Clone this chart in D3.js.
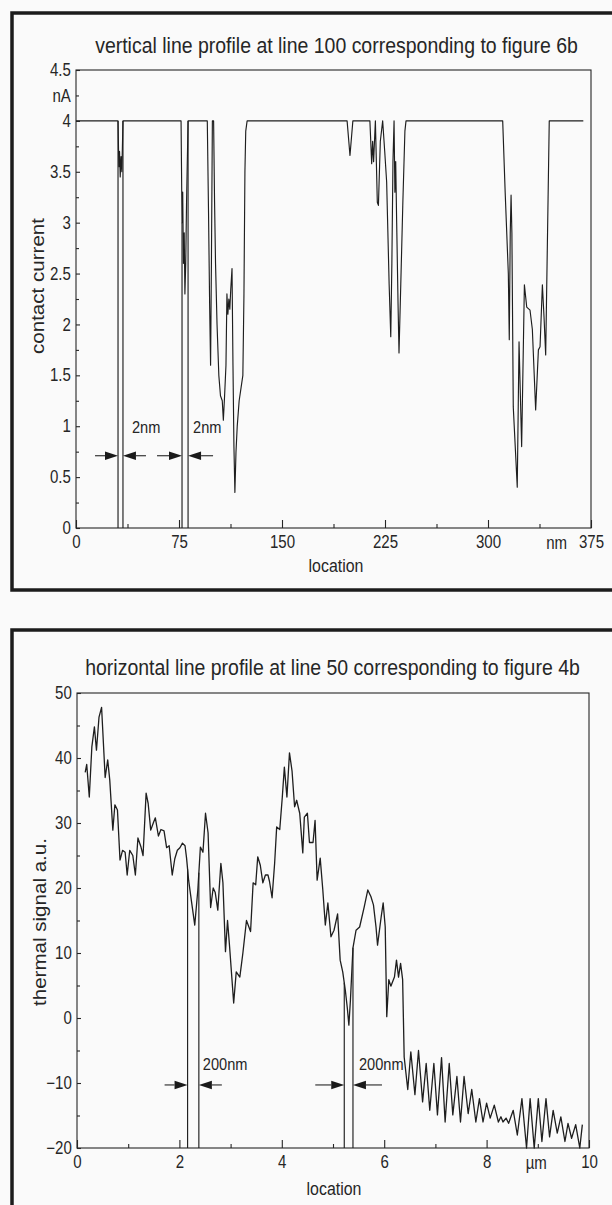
<!DOCTYPE html>
<html>
<head>
<meta charset="utf-8">
<script src="https://cdn.jsdelivr.net/npm/d3@7"></script>
<style>
  body { margin: 0; background: #fafafa; }
  text { font-family: "Liberation Sans", Arial, sans-serif; fill: #262626; }
</style>
</head>
<body>
<svg id="chart" width="612" height="1205"></svg>
<script>
// ---- panel 1: vertical line profile, contact current (nA) vs location (nm)
const currentLoc = [0, 30.6, 31.2, 31.7, 32.2, 32.8, 33.4, 34.2, 76.5, 77.2, 77.7, 78.2, 78.8, 79.3, 79.9, 80.5, 81.6,
  95.6, 96.5, 97.3, 98.0, 98.6, 99.3, 100.2, 100.9, 101.6, 102.7, 104.0, 105.2, 106.5, 107.3, 108.2, 109.2, 109.9,
  110.6, 111.3, 112.0, 112.7, 113.6, 114.3, 115.0, 115.7, 116.5, 117.4, 118.8, 120.2, 121.5, 122.3, 123.0, 123.6, 124.6,
  197.4, 199.5, 201.6, 214.0, 215.3, 216.0, 216.7, 218.0, 219.4, 220.2, 221.6, 223.3, 224.8, 226.2, 228.0, 229.2,
  230.0, 230.8, 231.6, 232.2, 232.8, 233.5, 234.5, 235.2, 236.5, 238.0, 239.5, 240.3,
  310.7, 312.5, 314.8, 315.5, 316.2, 316.8, 317.4, 318.4, 321.3, 322.6, 324.5, 326.5, 328.2, 330.6, 332.3, 334.7,
  336.7, 337.9, 339.6, 340.8, 342.0, 344.6, 369.4];
const currentVal = [4, 4, 3.55, 3.7, 3.45, 3.65, 3.5, 4, 4, 3.0, 3.3, 2.6, 2.9, 2.3, 2.6, 3.2, 4,
  4, 3.1, 2.2, 1.6, 2.6, 4, 4, 3.2, 2.6, 2.0, 1.5, 1.3, 1.25, 1.06, 1.3, 1.6, 2.3,
  2.1, 2.25, 2.15, 2.35, 2.55, 1.6, 0.8, 0.35, 0.75, 1.0, 1.25, 1.38, 1.5, 2.3, 3.5, 3.9, 4,
  4, 3.66, 4, 4, 3.58, 3.8, 3.6, 4, 3.2, 3.17, 3.8, 4, 3.7, 3.4, 2.4, 1.88,
  2.6, 3.6, 4, 3.3, 3.6, 3.0, 2.2, 1.72, 2.4, 3.2, 3.9, 4,
  4, 3.3, 2.5, 1.85, 2.9, 3.27, 2.9, 1.19, 0.4, 1.83, 0.8, 2.39, 2.17, 2.14, 1.95, 1.16,
  1.75, 1.78, 2.39, 2.07, 1.7, 4, 4];
const currentMarks = [[30.6, 34.2], [77.2, 81.6]];
const currentGapLabel = "2nm";
const currentXTicks = [0, 75, 150, 225, 300, 375];
const currentXMinor = [37.5, 112.5, 187.5, 262.5, 337.5];
const currentYTicks = [0, 0.5, 1, 1.5, 2, 2.5, 3, 3.5, 4, 4.5];
const currentYMinor = [0.25, 0.75, 1.25, 1.75, 2.25, 2.75, 3.25, 3.75, 4.25];

// ---- panel 2: horizontal line profile, thermal signal (a.u.) vs location (µm)
const thermalLoc = [0.16, 0.19, 0.24, 0.29, 0.34, 0.38, 0.43, 0.48, 0.55, 0.60, 0.64, 0.70, 0.74, 0.79, 0.84, 0.89,
  0.94, 0.98, 1.03, 1.09, 1.14, 1.19, 1.25, 1.29, 1.35, 1.39, 1.44, 1.49, 1.53, 1.59, 1.64, 1.70, 1.75, 1.80,
  1.86, 1.91, 1.96, 2.01, 2.06, 2.11, 2.14, 2.18, 2.24, 2.30, 2.36, 2.41, 2.46, 2.51, 2.56, 2.61, 2.66, 2.70,
  2.75, 2.81, 2.85, 2.90, 2.94, 2.98, 3.06, 3.11, 3.18, 3.24, 3.31, 3.39, 3.44, 3.49, 3.53, 3.58, 3.63, 3.68,
  3.73, 3.76, 3.81, 3.86, 3.90, 3.96, 4.01, 4.05, 4.10, 4.15, 4.20, 4.25, 4.29, 4.35, 4.41, 4.44, 4.50, 4.54,
  4.61, 4.65, 4.69, 4.75, 4.80, 4.85, 4.90, 4.96, 5.02, 5.09, 5.14, 5.19, 5.24, 5.28, 5.31, 5.34, 5.39, 5.45,
  5.52, 5.61, 5.68, 5.74, 5.79, 5.84, 5.87, 5.94, 5.98, 6.02, 6.05, 6.09, 6.13, 6.20, 6.24, 6.28, 6.32, 6.36,
  6.39, 6.46, 6.52, 6.60, 6.67, 6.75, 6.82, 6.89, 6.97, 7.04, 7.12, 7.19, 7.27, 7.34, 7.42, 7.49, 7.56, 7.64,
  7.71, 7.79, 7.86, 7.93, 8.00, 8.07, 8.15, 8.23, 8.28, 8.32, 8.38, 8.43, 8.52, 8.60, 8.69, 8.78, 8.85, 8.93,
  9.01, 9.08, 9.16, 9.23, 9.30, 9.38, 9.45, 9.53, 9.59, 9.66, 9.74, 9.82, 9.87];
const thermalVal = [37.8, 39, 34, 41.7, 44.8, 41.2, 46.3, 47.8, 37, 39.7, 36.6, 28.9, 32.8, 32, 24.3, 25.8,
  25.5, 22, 25.8, 25, 22, 27.7, 26.3, 25, 34.6, 33, 28.9, 30, 30.8, 28, 29, 28.8, 26.2, 26.5,
  22, 24.5, 25.8, 26.2, 26.9, 26.5, 24.6, 21.2, 17.7, 14.3, 19.7, 26.3, 25.5, 31.5, 28.5, 17, 20, 19.3,
  16.6, 23.8, 20.8, 10.2, 15, 11, 2.3, 7.1, 6.3, 10, 15, 13.3, 20.8, 20.5, 24.8, 23.5, 20.8, 22,
  22, 21, 18.5, 23.8, 29.4, 29, 34, 38.6, 34, 40.8, 38, 32.5, 33.5, 31.5, 25.4, 30.9, 31.5, 27,
  27, 30.4, 21.2, 24.6, 19.8, 14.3, 17.7, 12.5, 13.5, 16, 8.9, 7.1, 4.3, 1.5, -1.1, 2.7, 10.8, 13.5,
  14, 17.1, 19.7, 18.7, 17.4, 14, 11.2, 15.5, 17.7, 14, 0.2, 5.9, 4.9, 6.3, 8.9, 6.3, 8.4, 5.9,
  -6, -11, -5.2, -11.8, -5.0, -12.9, -7, -14.2, -7, -14.9, -6.1, -16, -7, -14.9, -9, -16, -9, -14.7,
  -11, -16, -12.4, -16, -13.1, -15.4, -13.4, -16, -15.2, -16, -15.4, -16.2, -14.2, -18, -12.4, -20, -12.4, -20,
  -12.4, -19, -12.4, -18.3, -14.2, -17.7, -15.2, -19, -16.2, -18.5, -16.4, -20, -16.4];
const thermalMarks = [[2.16, 2.38], [5.22, 5.39]];
const thermalGapLabel = "200nm";
const thermalXTicks = [0, 2, 4, 6, 8, 10];
const thermalXMinor = [1, 3, 5, 7, 9];
const thermalYTicks = [-20, -10, 0, 10, 20, 30, 40, 50];
const thermalYMinor = [-15, -5, 5, 15, 25, 35, 45];

const svg = d3.select("#chart");
const ink = "#262626";
const squeeze = 0.86; // the plotter font is tall and narrow

// narrow text: squeeze horizontally to a given width instead of using textLength
function narrowText(g, x, y, width, size, str, rotate) {
  const t = g.append("g");
  const el = t.append("text").attr("font-size", size).attr("text-anchor", "middle").text(str);
  const w = el.node().getComputedTextLength();
  const s = width / w;
  t.attr("transform", rotate
    ? `translate(${x},${y}) rotate(-90) scale(${s},1)`
    : `translate(${x},${y}) scale(${s},1)`);
  return el;
}

function smallText(g, x, y, size, str, anchor) {
  return g.append("text")
    .attr("transform", `translate(${x},${y}) scale(${squeeze},1)`)
    .attr("text-anchor", anchor || "start").attr("font-size", size).text(str);
}

function panel(o) {
  const x = d3.scaleLinear().domain(o.xDomain).range([o.left, o.right]);
  const y = d3.scaleLinear().domain(o.yDomain).range([o.bottom, o.top]);
  const g = svg.append("g");

  // outer frame (runs off the right edge of the page)
  g.append("rect")
    .attr("x", 12).attr("y", o.frameTop).attr("width", 720).attr("height", o.frameH)
    .attr("fill", "none").attr("stroke", "#1c1c1c").attr("stroke-width", 3.5);

  narrowText(g, o.titleX, o.titleY, o.titleW, 22, o.title, false);

  // plot box
  g.append("rect")
    .attr("x", o.left).attr("y", o.top).attr("width", o.right - o.left).attr("height", o.bottom - o.top)
    .attr("fill", "none").attr("stroke", ink).attr("stroke-width", 1.1);

  // axes, ticks point inward
  g.append("g").attr("transform", `translate(0,${o.bottom})`)
    .call(d3.axisBottom(x).tickValues(o.xTicks).tickSize(-8).tickPadding(8).tickFormat(d3.format("~g")));
  g.append("g").attr("transform", `translate(0,${o.bottom})`)
    .call(d3.axisBottom(x).tickValues(o.xMinor).tickSize(-4).tickFormat(""));
  g.append("g").attr("transform", `translate(${o.left},0)`)
    .call(d3.axisLeft(y).tickValues(o.yTicks).tickSize(-4).tickPadding(6).tickFormat(d3.format("~g")));
  g.append("g").attr("transform", `translate(${o.left},0)`)
    .call(d3.axisLeft(y).tickValues(o.yMinor).tickSize(-3).tickPadding(6)
      .tickFormat(d => d === o.yUnitAt ? o.yUnit : ""));
  g.selectAll(".domain").remove();
  g.selectAll(".tick line").attr("stroke", ink).attr("stroke-width", 1.1);
  g.selectAll(".tick text").attr("font-size", 17.5).attr("fill", ink).attr("font-family", null)
    .attr("transform", `scale(${squeeze},1)`);

  smallText(g, x(o.xUnitAt), o.bottom + 21, 17.5, o.xUnit, "middle");
  smallText(g, o.xLabelX, o.bottom + o.xLabelDy, 18.5, "location", "middle");

  narrowText(g, o.yLabelX, o.yLabelY, o.yLabelW, 18, o.yLabel, true);

  // trace
  const pts = o.loc.map((d, i) => [d, o.val[i]]);
  g.append("path").datum(pts)
    .attr("fill", "none").attr("stroke", "#1e1e1e").attr("stroke-width", o.lineW)
    .attr("stroke-linejoin", "round")
    .attr("d", d3.line().x(d => x(d[0])).y(d => y(d[1])));

  // gap markers: vertical lines from the trace down to the axis, arrows pointing at them
  const valueAt = v => {
    const i = d3.bisector(d => d).left(o.loc, v);
    const a = Math.max(i - 1, 0), b = Math.min(i, o.loc.length - 1);
    if (a === b) return o.val[a];
    const t = (v - o.loc[a]) / (o.loc[b] - o.loc[a]);
    return o.val[a] + t * (o.val[b] - o.val[a]);
  };
  o.marks.forEach(([m1, m2], k) => {
    [m1, m2].forEach(m => {
      g.append("line").attr("x1", x(m)).attr("x2", x(m))
        .attr("y1", y(valueAt(m))).attr("y2", o.bottom)
        .attr("stroke", "#1e1e1e").attr("stroke-width", 1.15);
    });
    const ya = y(o.arrowAt);
    const xl = x(m1), xr = x(m2), tail = o.arrowTail[k], head = 13, hw = 4.2;
    g.append("line").attr("x1", xl - tail).attr("x2", xl - head).attr("y1", ya).attr("y2", ya)
      .attr("stroke", ink).attr("stroke-width", 1.1);
    g.append("path").attr("d", `M${xl},${ya}L${xl - head},${ya - hw}L${xl - head},${ya + hw}Z`).attr("fill", "#1a1a1a");
    g.append("line").attr("x1", xr + head).attr("x2", xr + tail).attr("y1", ya).attr("y2", ya)
      .attr("stroke", ink).attr("stroke-width", 1.1);
    g.append("path").attr("d", `M${xr},${ya}L${xr + head},${ya - hw}L${xr + head},${ya + hw}Z`).attr("fill", "#1a1a1a");
    smallText(g, xr + o.gapLabelDx[k], ya - o.gapLabelDy, 17, o.gapLabel);
  });
}

panel({
  frameTop: 13, frameH: 577,
  title: "vertical line profile at line 100 corresponding to figure 6b",
  titleX: 336.5, titleY: 53, titleW: 483,
  left: 76, right: 591, top: 70, bottom: 528,
  xDomain: [0, 375], yDomain: [0, 4.5],
  xTicks: currentXTicks, xMinor: currentXMinor, yTicks: currentYTicks, yMinor: currentYMinor,
  yUnit: "nA", yUnitAt: 4.25, xUnit: "nm", xUnitAt: 350,
  xLabelX: 336, xLabelDy: 44, yLabel: "contact current", yLabelX: 44, yLabelY: 286, yLabelW: 136,
  loc: currentLoc, val: currentVal, lineW: 1.15,
  marks: currentMarks, gapLabel: currentGapLabel, arrowAt: 0.71, arrowTail: [23, 25],
  gapLabelDx: [9, 5], gapLabelDy: 23
});

panel({
  frameTop: 630, frameH: 620,
  title: "horizontal line profile at line 50 corresponding to figure 4b",
  titleX: 332.5, titleY: 675, titleW: 495,
  left: 77, right: 589, top: 693, bottom: 1148,
  xDomain: [0, 10], yDomain: [-20, 50],
  xTicks: thermalXTicks, xMinor: thermalXMinor, yTicks: thermalYTicks, yMinor: thermalYMinor,
  yUnit: "", yUnitAt: null, xUnit: "µm", xUnitAt: 8.97,
  xLabelX: 334, xLabelDy: 47, yLabel: "thermal signal a.u.", yLabelX: 46, yLabelY: 922, yLabelW: 168,
  loc: thermalLoc, val: thermalVal, lineW: 1.3,
  marks: thermalMarks, gapLabel: thermalGapLabel, arrowAt: -10.3, arrowTail: [23, 29],
  gapLabelDx: [4, 6], gapLabelDy: 15
});
</script>
</body>
</html>
